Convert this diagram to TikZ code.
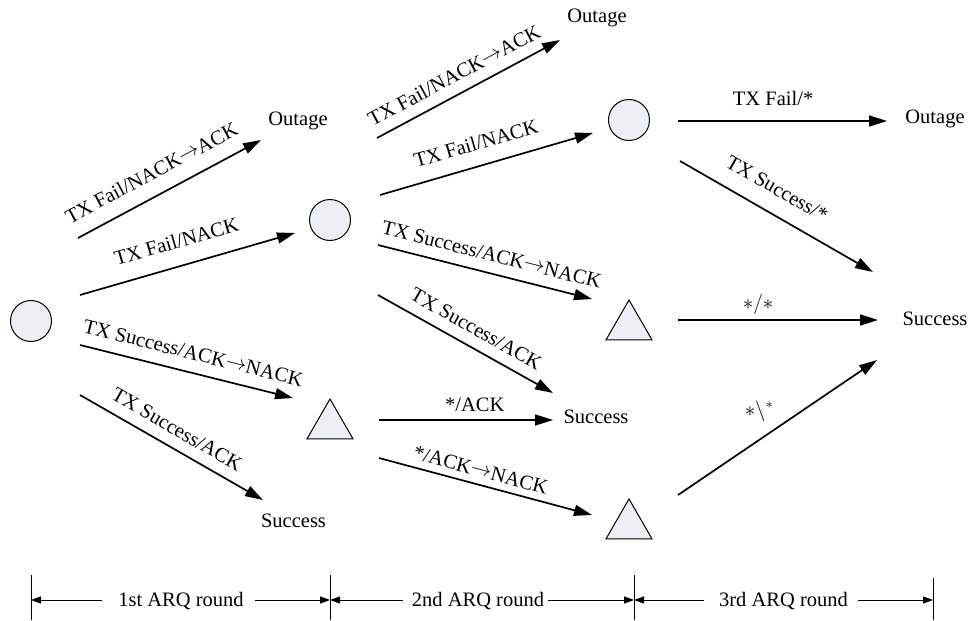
\documentclass[tikz,border=0pt]{standalone}
\usepackage{fontspec}
\setmainfont{Liberation Serif}
\usetikzlibrary{arrows.meta,shapes.geometric}
\definecolor{cfill}{RGB}{236,239,245}
\newcommand{\myto}{\raisebox{1.5pt}{$\rightarrow$}}
\tikzset{
  stcirc/.style={circle,draw,fill=cfill,line width=1pt,minimum size=41pt,inner sep=0pt},
  sttri/.style={regular polygon,regular polygon sides=3,draw,fill=cfill,line width=1pt,minimum size=53pt,inner sep=0pt},
  endtxt/.style={anchor=base,inner sep=0pt},
  arr/.style={line width=1.7pt,-{Triangle[length=18pt,width=11pt]}},
  lab/.style={sloped,inner sep=0pt,text depth=0pt,above=#1},
  dimarr/.style={line width=0.9pt,-{Triangle[length=10pt,width=7pt]}},
  tick/.style={line width=0.9pt}
}
\begin{document}
\begin{tikzpicture}[x=1pt,y=-1pt,font=\fontsize{20.5}{24}\selectfont]
\useasboundingbox (0,0) rectangle (972,621);
% states
\node[stcirc] (c0) at (31,321) {};
\node[stcirc] (c1) at (330,220) {};
\node[stcirc] (c2) at (629,120) {};
\node[sttri] (t1) at (330,425.5) {};
\node[sttri] (t3) at (629,326.5) {};
\node[sttri] (t2) at (629,525.5) {};
% end labels
\node[endtxt] (out1) at (298,125) {Outage};
\node[endtxt] (out2) at (597,23) {Outage};
\node[endtxt] (out3) at (935,123) {Outage};
\node[endtxt] (suc1) at (293.5,527) {Success};
\node[endtxt] (suc2) at (596,423) {Success};
\node[endtxt] (suc3) at (935,325) {Success};
% connector end points
\coordinate (as) at (78,238);  \coordinate (ae) at (261,140);
\coordinate (bs) at (80,295);  \coordinate (be) at (295,233);
\coordinate (cs) at (80,345);  \coordinate (ce) at (293,398);
\coordinate (ds) at (80,395);  \coordinate (de) at (263,500);
\coordinate (es) at (377,138); \coordinate (ee) at (560,40);
\coordinate (fs) at (380,195); \coordinate (fe) at (593,133);
\coordinate (gs) at (378,245); \coordinate (ge) at (592,299);
\coordinate (hs) at (378,295); \coordinate (he) at (553,393);
\coordinate (is) at (379,420); \coordinate (ie) at (553,420);
\coordinate (js) at (379,458); \coordinate (je) at (592,515);
\coordinate (ks) at (678,121); \coordinate (ke) at (887,121);
\coordinate (ls) at (680,161); \coordinate (le) at (873,272);
\coordinate (ms) at (678,320); \coordinate (me) at (878,320);
\coordinate (ns) at (678,495); \coordinate (ne) at (877,360);
% round 1
\draw[arr] (as) -- node[lab=15pt,pos=0.46] {TX Fail/NACK\myto ACK} (ae);
\draw[arr] (bs) -- node[lab=17pt,pos=0.48] {TX Fail/NACK} (be);
\draw[arr] (cs) -- node[lab=12pt,pos=0.51] {TX Success/ACK\myto NACK} (ce);
\draw[arr] (ds) -- node[lab=11pt,pos=0.48] {TX Success/ACK} (de);
% round 2
\draw[arr] (es) -- node[lab=11pt,pos=0.47] {TX Fail/NACK\myto ACK} (ee);
\draw[arr] (fs) -- node[lab=15pt,pos=0.48] {TX Fail/NACK} (fe);
\draw[arr] (gs) -- node[lab=11pt,pos=0.51] {TX Success/ACK\myto NACK} (ge);
\draw[arr] (hs) -- node[lab=11pt,pos=0.51] {TX Success/ACK} (he);
\draw[arr] (is) -- node[lab=8pt,pos=0.55] {*/ACK} (ie);
\draw[arr] (js) -- node[lab=7pt,pos=0.46] {*/ACK\myto NACK} (je);
% round 3
\draw[arr] (ks) -- node[lab=15pt,pos=0.455] {TX Fail/*} (ke);
\draw[arr] (ls) -- node[lab=17pt,pos=0.44] {TX Success/*} (le);
\draw[arr] (ms) -- node[lab=10pt,pos=0.4] {$*/*$} (me);
\draw[arr] (ns) -- (ne);
\node (nlab) at (759,411) {$\ast\backslash^{\ast}$};
% bottom scale
\coordinate (k0t) at (31,575);  \coordinate (k0b) at (31,620);
\coordinate (k1t) at (330,575); \coordinate (k1b) at (330,620);
\coordinate (k2t) at (634,575); \coordinate (k2b) at (634,620);
\coordinate (k3t) at (933,578); \coordinate (k3b) at (933,620);
\draw[tick] (k0t) -- (k0b);
\draw[tick] (k1t) -- (k1b);
\draw[tick] (k2t) -- (k2b);
\draw[tick] (k3t) -- (k3b);
\node[endtxt] (r1) at (181,606) {1st ARQ round};
\node[endtxt] (r2) at (478,606) {2nd ARQ round};
\node[endtxt] (r3) at (783.5,606) {3rd ARQ round};
\coordinate (k0m) at (31,600);  \coordinate (k1m) at (330,600);
\coordinate (k2m) at (634,600); \coordinate (k3m) at (933,600);
\coordinate (r1l) at (102,600); \coordinate (r1r) at (255,600);
\coordinate (r2l) at (403,600); \coordinate (r2r) at (548,600);
\coordinate (r3l) at (704,600); \coordinate (r3r) at (858,600);
\draw[dimarr] (r1l) -- (k0m);
\draw[dimarr] (r1r) -- (k1m);
\draw[dimarr] (r2l) -- (k1m);
\draw[dimarr] (r2r) -- (k2m);
\draw[dimarr] (r3l) -- (k2m);
\draw[dimarr] (r3r) -- (k3m);
\end{tikzpicture}
\end{document}
